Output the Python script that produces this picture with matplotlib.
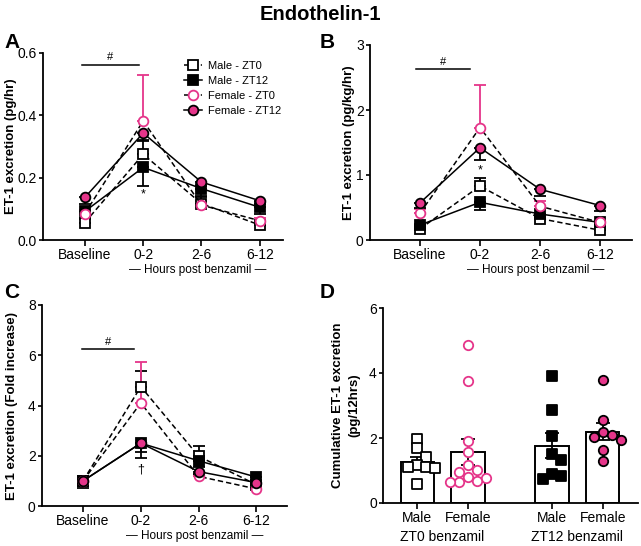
import numpy as np
import matplotlib
matplotlib.use("Agg")
import matplotlib.pyplot as plt
from matplotlib.lines import Line2D
from matplotlib.transforms import blended_transform_factory

plt.rcParams['font.family'] = ['Liberation Sans', 'DejaVu Sans']
plt.rcParams['axes.linewidth'] = 1.3

PINK = '#E5358A'

cats = ["Baseline", "0-2", "2-6", "6-12"]
series_names = ["Male - ZT0", "Male - ZT12", "Female - ZT0", "Female - ZT12"]

# Panel A: ET-1 excretion (pg/hr)
a_male_zt0 = [0.056, 0.275, 0.117, 0.048]
a_male_zt0_sem = [0.012, 0.045, 0.02, 0.01]
a_male_zt12 = [0.092, 0.233, 0.165, 0.105]
a_male_zt12_sem = [0.02, 0.06, 0.025, 0.02]
a_female_zt0 = [0.085, 0.382, 0.112, 0.062]
a_female_zt0_sem = [0.012, 0.147, 0.012, 0.01]
a_female_zt12 = [0.137, 0.343, 0.186, 0.126]
a_female_zt12_sem = [0.02, 0.025, 0.012, 0.012]

# Panel B: ET-1 excretion (pg/kg/hr)
b_male_zt0 = [0.17, 0.83, 0.33, 0.15]
b_male_zt0_sem = [0.03, 0.12, 0.03, 0.02]
b_male_zt12 = [0.23, 0.58, 0.40, 0.27]
b_male_zt12_sem = [0.04, 0.12, 0.05, 0.03]
b_female_zt0 = [0.41, 1.73, 0.52, 0.27]
b_female_zt0_sem = [0.06, 0.66, 0.08, 0.03]
b_female_zt12 = [0.57, 1.42, 0.78, 0.53]
b_female_zt12_sem = [0.07, 0.19, 0.10, 0.08]

# Panel C: fold increase
c_male_zt0 = [1.0, 4.75, 1.98, 0.85]
c_male_zt0_sem = [0.2, 0.64, 0.4, 0.1]
c_male_zt12 = [1.0, 2.5, 1.8, 1.15]
c_male_zt12_sem = [0.3, 0.6, 0.25, 0.15]
c_female_zt0 = [1.0, 4.1, 1.18, 0.68]
c_female_zt0_sem = [0.15, 1.63, 0.1, 0.05]
c_female_zt12 = [1.0, 2.5, 1.37, 0.93]
c_female_zt12_sem = [0.2, 0.35, 0.1, 0.1]

# Panel D: cumulative ET-1 excretion (pg/12hrs), individual animals
d_male_zt0 = [1.97, 1.68, 1.42, 1.18, 1.12, 1.10, 1.08, 0.57]
d_female_zt0 = [4.87, 3.74, 1.92, 1.57, 1.18, 1.02, 0.95, 0.80, 0.78, 0.68, 0.66, 0.65]
d_male_zt12 = [3.92, 2.85, 2.05, 1.52, 1.31, 0.90, 0.84, 0.75]
d_female_zt12 = [3.79, 2.54, 2.20, 2.10, 2.03, 1.95, 1.62, 1.30]
d_labels = ["Male", "Female", "Male", "Female"]
d_groups = ["ZT0 benzamil", "ZT12 benzamil"]

W, H = 641, 546
fig = plt.figure(figsize=(W / 100, H / 100), dpi=100)
PT = 72 / 100  # points per pixel


def ax_px(l, t, r, b):
    return fig.add_axes([l / W, 1 - b / H, (r - l) / W, (b - t) / H])


def place_ylabel(ax, xpix):
    ax.yaxis.set_label_coords(xpix / W, 0.5,
                              transform=blended_transform_factory(fig.transFigure, ax.transAxes))


styles = [
    dict(ls='--', marker='s', mfc='white', mec='black', ecol='black', up=True),
    dict(ls='-', marker='s', mfc='black', mec='black', ecol='black', up=False),
    dict(ls='--', marker='o', mfc='white', mec=PINK, ecol=PINK, up=True),
    dict(ls='-', marker='o', mfc=PINK, mec='black', ecol='black', up=False),
]


def line_panel(ax, data, ylim, yticks, yfmt, ylabel, xlim, sig, star, star_text, ylab_x):
    x = np.arange(len(cats))
    for (vals, sem), st in zip(data, styles):
        vals = np.array(vals)
        sem = np.array(sem)
        if st['up']:
            yerr = [np.zeros_like(sem), sem]
        else:
            yerr = [sem, np.zeros_like(sem)]
        ax.errorbar(x, vals, yerr=yerr, fmt='none', ecolor=st['ecol'],
                    elinewidth=1.3, capsize=4, capthick=1.3, zorder=2)
        ax.plot(x, vals, ls=st['ls'], color='black', lw=1.1, zorder=3,
                marker=st['marker'], ms=7, mfc=st['mfc'], mec=st['mec'],
                mew=1.3, dashes=(3.5, 2) if st['ls'] == '--' else (None, None))
    ax.set_xlim(*xlim)
    ax.set_ylim(*ylim)
    ax.set_yticks(yticks)
    ax.set_yticklabels([yfmt.format(v) for v in yticks])
    ax.set_xticks(x)
    ax.set_xticklabels(cats)
    ax.spines['top'].set_visible(False)
    ax.spines['right'].set_visible(False)
    ax.tick_params(axis='x', labelsize=10, length=4, width=1.2, pad=2)
    ax.tick_params(axis='y', labelsize=10, length=3, width=1.2, pad=1.5)
    ax.set_ylabel(ylabel, fontsize=9.5, fontweight='bold')
    place_ylabel(ax, ylab_x)
    # significance bar
    x0, x1, yb, yh = sig
    ax.plot([x0, x1], [yb, yb], color='black', lw=1.1, clip_on=False)
    ax.text((x0 + x1) / 2, yh, '#', ha='center', va='bottom', fontsize=8)
    ax.text(1, star, star_text, ha='center', va='center', fontsize=9)
    ax.annotate('\u2014 Hours post benzamil \u2014', xy=(1.93, 0),
                xycoords=('data', 'axes fraction'), xytext=(0, -30 * PT),
                textcoords='offset points', ha='center', va='center', fontsize=8.5,
                annotation_clip=False)


axA = ax_px(43, 53, 283, 240)
line_panel(axA, [(a_male_zt0, a_male_zt0_sem), (a_male_zt12, a_male_zt12_sem),
                 (a_female_zt0, a_female_zt0_sem), (a_female_zt12, a_female_zt12_sem)],
           (0, 0.6), [0, 0.2, 0.4, 0.6], '{:.1f}', 'ET-1 excretion (pg/hr)',
           (-0.72, 3.4), (-0.05, 0.92, 0.563, 0.572), 0.146, '*', 17)

handles = []
for name, st in zip(series_names, styles):
    handles.append(Line2D([], [], ls=st['ls'], color='black', lw=1.1, marker=st['marker'],
                          ms=7, mfc=st['mfc'], mec=st['mec'], mew=1.3,
                          dashes=(3.5, 2) if st['ls'] == '--' else (None, None)))
axA.legend(handles, series_names, loc='upper left', bbox_to_anchor=(0.57, 0.98),
           frameon=False, fontsize=8, handlelength=1.6, handletextpad=0.5,
           labelspacing=0.45, borderaxespad=0)

axB = ax_px(370, 45, 632, 240)
line_panel(axB, [(b_male_zt0, b_male_zt0_sem), (b_male_zt12, b_male_zt12_sem),
                 (b_female_zt0, b_female_zt0_sem), (b_female_zt12, b_female_zt12_sem)],
           (0, 3), [0, 1, 2, 3], '{:.0f}', 'ET-1 excretion (pg/kg/hr)',
           (-0.83, 3.53), (-0.06, 0.83, 2.63, 2.66), 1.07, '*', 355)

axC = ax_px(42, 305, 287, 506)
line_panel(axC, [(c_male_zt0, c_male_zt0_sem), (c_male_zt12, c_male_zt12_sem),
                 (c_female_zt0, c_female_zt0_sem), (c_female_zt12, c_female_zt12_sem)],
           (0, 8), [0, 2, 4, 6, 8], '{:.0f}', 'ET-1 excretion (Fold increase)',
           (-0.71, 3.53), (-0.02, 0.89, 6.25, 6.32), 1.45, '\u2020', 18)

# Panel D
axD = ax_px(383, 308, 638, 503)
d_pos = np.array([0, 1, 2.65, 3.65])
d_data = [d_male_zt0, d_female_zt0, d_male_zt12, d_female_zt12]
d_style = [
    dict(marker='s', mfc='white', mec='black'),
    dict(marker='o', mfc='white', mec=PINK),
    dict(marker='s', mfc='black', mec='black'),
    dict(marker='o', mfc=PINK, mec='black'),
]
axD.set_xlim(-0.67, 4.34)
axD.set_ylim(0, 6)
# pixel scales for beeswarm
px_x = (638 - 383) / (4.34 + 0.67)
px_y = (503 - 308) / 6.0
diam = 9.0
for pos, vals, st in zip(d_pos, d_data, d_style):
    vals = np.array(vals)
    mean = vals.mean()
    sem = vals.std(ddof=1) / np.sqrt(len(vals))
    axD.bar(pos, mean, width=0.65, color='white', edgecolor='black', lw=1.4, zorder=1)
    # simple beeswarm (deterministic spread of overlapping points)
    placed = []
    order = np.argsort(-vals)
    xs = np.zeros(len(vals))
    for i in order:
        yp = vals[i] * px_y
        k = 0
        while True:
            cand = ((k + 1) // 2) * (1 if k % 2 else -1) * diam if k else 0.0
            if all((cand - qx) ** 2 + (yp - qy) ** 2 >= diam ** 2 for qx, qy in placed):
                break
            k += 1
        placed.append((cand, yp))
        xs[i] = pos + cand / px_x
    axD.errorbar(pos, mean, yerr=sem, fmt='none', ecolor='black', elinewidth=1.3,
                 capsize=5, capthick=1.3, zorder=2)
    axD.scatter(xs, vals, marker=st['marker'], s=46, facecolor=st['mfc'],
                edgecolor=st['mec'], linewidths=1.3, zorder=3)
axD.set_yticks([0, 2, 4, 6])
axD.set_xticks(d_pos)
axD.set_xticklabels(d_labels)
axD.spines['top'].set_visible(False)
axD.spines['right'].set_visible(False)
axD.tick_params(axis='x', labelsize=10, length=4, width=1.2, pad=2)
axD.tick_params(axis='y', labelsize=10, length=3, width=1.2, pad=1.5)
axD.set_ylabel('Cumulative ET-1 excretion\n(pg/12hrs)', fontsize=9.5, fontweight='bold',
               linespacing=1.45)
place_ylabel(axD, 360)
for gx, g in zip([(d_pos[0] + d_pos[1]) / 2, (d_pos[2] + d_pos[3]) / 2], d_groups):
    axD.annotate(g, xy=(gx, 0), xycoords=('data', 'axes fraction'),
                 xytext=(0, -34 * PT), textcoords='offset points',
                 ha='center', va='center', fontsize=10, annotation_clip=False)

# panel letters and title
for lab, (px, py) in zip('ABCD', [(4, 42), (320, 42), (4, 292), (320, 292)]):
    fig.text(px / W, 1 - py / H, lab, fontsize=15, fontweight='bold', ha='left', va='center')
fig.text(0.5, 1 - 14 / H, 'Endothelin-1', fontsize=14.5, fontweight='bold',
         ha='center', va='center')

fig.savefig('out.png', dpi=100)
